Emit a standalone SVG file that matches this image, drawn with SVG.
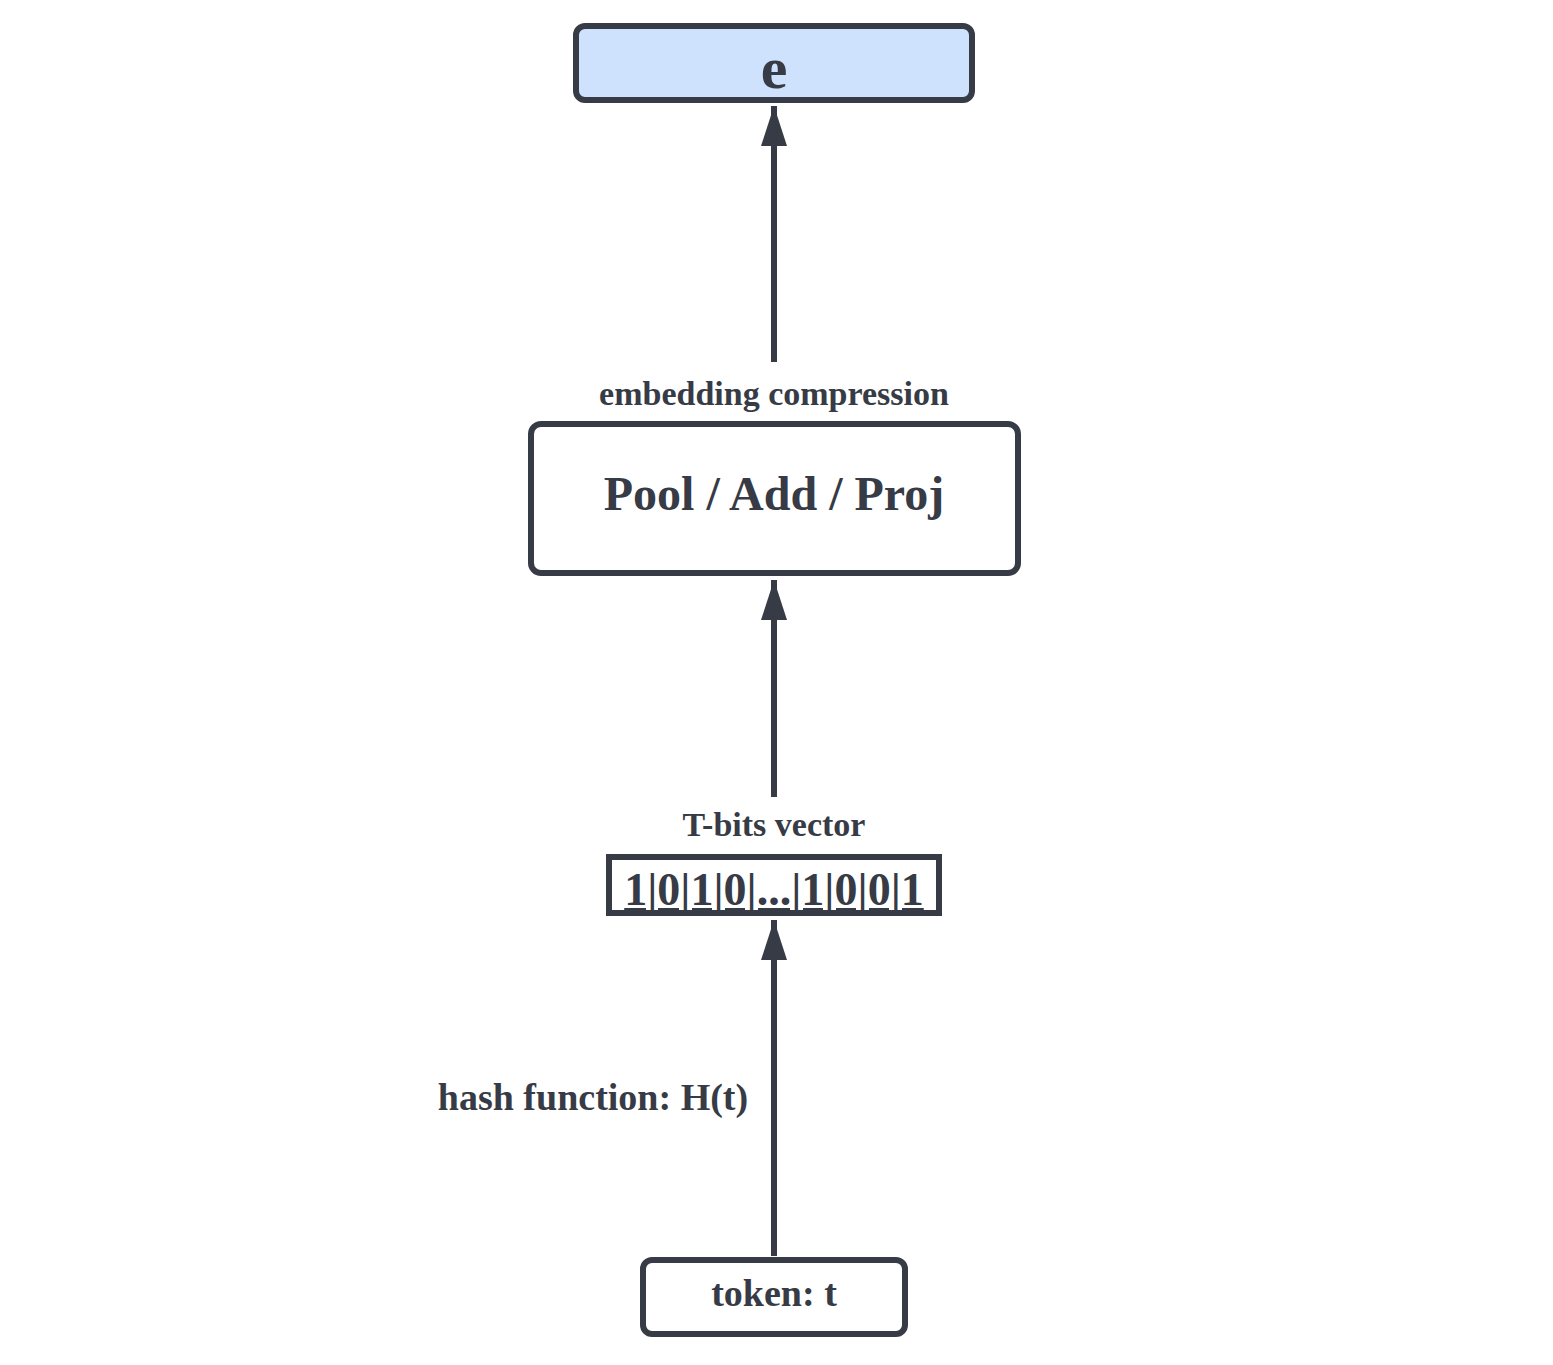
<svg xmlns="http://www.w3.org/2000/svg" width="1553" height="1365" viewBox="0 0 1553 1365">
<style>
.t{font-family:"Liberation Serif",serif;font-weight:bold;fill:#363b45;text-anchor:middle}
.b{fill:#fff;stroke:#363b45;stroke-width:6}
.c{stroke:#363b45;stroke-width:6;fill:none}
</style>
<defs><marker id="a" markerUnits="userSpaceOnUse" markerWidth="30" markerHeight="44" refX="28" refY="14" orient="auto"><path d="M0,0 L28,14 L0,28 Z" fill="#363b45" transform="translate(0,0) scale(1.4,1) translate(-8,0)"/></marker></defs>
<rect width="1553" height="1365" fill="#fff"/>
<g id="connectors">
<line class="c" x1="774" y1="362" x2="774" y2="106"/><path d="M761,146 L774,106 L787,146 Z" fill="#363b45"/>
<line class="c" x1="774" y1="797" x2="774" y2="580"/><path d="M761,620 L774,580 L787,620 Z" fill="#363b45"/>
<line class="c" x1="774" y1="1256" x2="774" y2="920"/><path d="M761,960 L774,920 L787,960 Z" fill="#363b45"/>
<text class="t" x="593" y="1110" font-size="38">hash function: H(t)</text>
</g>
<g id="e"><rect class="b" x="576" y="26" width="396" height="74" rx="9" fill="#cfe2fd" style="fill:#cfe2fd"/><text class="t" x="774" y="88" font-size="60">e</text></g>
<g id="pool"><text class="t" x="774" y="405" font-size="34">embedding compression</text><rect class="b" x="531" y="424" width="487" height="149" rx="10"/><text class="t" x="774" y="510" font-size="48">Pool / Add / Proj</text></g>
<g id="bits"><text class="t" x="774" y="836" font-size="34">T-bits vector</text><rect class="b" x="609" y="857" width="330" height="56"/><text class="t" x="774" y="905" font-size="46" text-decoration="underline">1|0|1|0|...|1|0|0|1</text></g>
<g id="token"><rect class="b" x="643" y="1260" width="262" height="74" rx="9"/><text class="t" x="774" y="1306" font-size="38">token: t</text></g>
</svg>
